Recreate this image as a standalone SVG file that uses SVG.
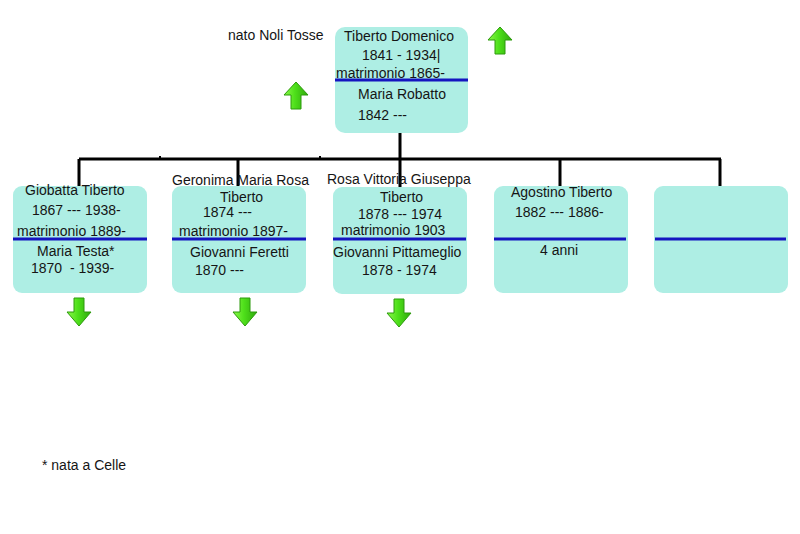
<svg xmlns="http://www.w3.org/2000/svg" width="800" height="534" viewBox="0 0 800 534">
<style>
text{font-family:"Liberation Sans",Arial,sans-serif;font-size:14px;fill:#151515}
.box{fill:#aeeee4}
.sep{stroke:#1515c0;stroke-width:3}
.conn{stroke:#000;stroke-width:3;fill:none}
.arr{fill:url(#g);stroke:#2c9a0c;stroke-width:1}
</style>
<defs>
<linearGradient id="g" x1="0" y1="0" x2="1" y2="0">
<stop offset="0" stop-color="#8cf84a"/>
<stop offset="0.45" stop-color="#4ee01a"/>
<stop offset="1" stop-color="#2fa80c"/>
</linearGradient>
<path id="down" d="M-5,0 H5 V14 H12 L0,28 L-12,14 H-5 Z"/>
<path id="up" d="M-5,27 H5 V13 H12 L0,0 L-12,13 H-5 Z"/>
</defs>
<rect width="800" height="534" fill="#fff"/>
<g id="connectors">
<path class="conn" d="M400,133 V159 M79,159 H721 M79,159 V187 M238,159 V188 M400,159 V187 M560,159 V187 M720,159 V187"/>
<path stroke="#000" stroke-width="2" d="M160,159 V156 M320,159 V156"/>
</g>
<g id="note-nato">
<text x="228" y="40">nato Noli Tosse</text>
</g>
<g id="arrow-up-1"><use href="#up" class="arr" x="296" y="82"/></g>
<g id="arrow-up-2"><use href="#up" class="arr" x="500" y="27"/></g>
<g id="node-domenico">
<rect class="box" x="335" y="27" width="133" height="106" rx="10"/>
<text x="344" y="41">Tiberto Domenico</text>
<text x="362" y="60">1841 - 1934|</text>
<text x="336" y="78">matrimonio 1865-</text>
<line class="sep" x1="335" y1="80" x2="468" y2="80"/>
<text x="358" y="99">Maria Robatto</text>
<text x="358" y="120">1842 ---</text>
</g>
<g id="node-giobatta">
<rect class="box" x="13" y="186" width="134" height="107" rx="9"/>
<text x="25" y="195">Giobatta Tiberto</text>
<text x="32" y="215">1867 --- 1938-</text>
<text x="17" y="236">matrimonio 1889-</text>
<line class="sep" x1="13" y1="239" x2="147" y2="239"/>
<text x="37" y="256">Maria Testa*</text>
<text x="31" y="273" xml:space="preserve">1870  - 1939-</text>
</g>
<g id="node-geronima">
<rect class="box" x="172" y="186" width="134" height="107" rx="9"/>
<text x="172" y="185">Geronima Maria Rosa</text>
<text x="220" y="202">Tiberto</text>
<text x="203" y="217">1874 ---</text>
<text x="179" y="236">matrimonio 1897-</text>
<line class="sep" x1="172" y1="239" x2="306" y2="239"/>
<text x="190" y="257">Giovanni Feretti</text>
<text x="195" y="275">1870 ---</text>
</g>
<g id="node-rosa">
<rect class="box" x="333" y="187" width="134" height="107" rx="9"/>
<text x="327" y="184">Rosa Vittoria Giuseppa</text>
<text x="380" y="202">Tiberto</text>
<text x="358" y="219">1878 --- 1974</text>
<text x="341" y="235">matrimonio 1903</text>
<line class="sep" x1="333" y1="239" x2="466" y2="239"/>
<text x="333" y="257">Giovanni Pittameglio</text>
<text x="362" y="275">1878 - 1974</text>
</g>
<g id="node-agostino">
<rect class="box" x="494" y="186" width="134" height="107" rx="9"/>
<text x="511" y="197">Agostino Tiberto</text>
<text x="515" y="217">1882 --- 1886-</text>
<line class="sep" x1="494" y1="239" x2="626" y2="239"/>
<text x="540" y="255">4 anni</text>
</g>
<g id="node-empty">
<rect class="box" x="654" y="186" width="134" height="107" rx="9"/>
<line class="sep" x1="655" y1="239" x2="786" y2="239"/>
</g>
<g id="arrow-down-1"><use href="#down" class="arr" x="79" y="298"/></g>
<g id="arrow-down-2"><use href="#down" class="arr" x="245" y="298"/></g>
<g id="arrow-down-3"><use href="#down" class="arr" x="399" y="299"/></g>
<g id="note-celle">
<text x="42" y="470">* nata a Celle</text>
</g>
</svg>
